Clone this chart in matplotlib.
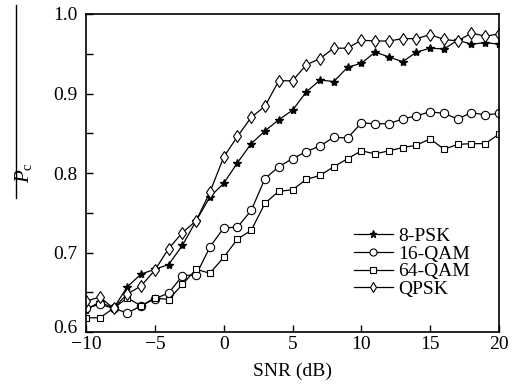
import numpy as np
import matplotlib
matplotlib.use("Agg")
from matplotlib import pyplot as plt
from matplotlib.lines import Line2D
import matplotlib.transforms as mtransforms

plt.rcParams['font.family'] = ['Liberation Serif', 'DejaVu Serif']
plt.rcParams['mathtext.fontset'] = 'custom'
plt.rcParams['mathtext.rm'] = 'Liberation Serif'
plt.rcParams['mathtext.it'] = 'Liberation Serif:italic'

#SNR values, one point per dB
snr = list(range(-10, 21))

#values
psk8 = [0.628, 0.638, 0.630, 0.657, 0.673, 0.679, 0.685, 0.709, 0.740, 0.770,
        0.787, 0.813, 0.837, 0.853, 0.867, 0.879, 0.902, 0.917, 0.915, 0.933,
        0.938, 0.952, 0.946, 0.940, 0.952, 0.957, 0.956, 0.967, 0.962, 0.964, 0.962]
qam16 = [0.630, 0.635, 0.630, 0.624, 0.633, 0.642, 0.649, 0.671, 0.672, 0.707,
         0.731, 0.732, 0.753, 0.793, 0.808, 0.818, 0.827, 0.834, 0.845, 0.844,
         0.863, 0.862, 0.862, 0.868, 0.872, 0.877, 0.875, 0.868, 0.876, 0.873, 0.875]
qam64 = [0.618, 0.618, 0.630, 0.643, 0.633, 0.643, 0.641, 0.660, 0.679, 0.674,
         0.694, 0.717, 0.728, 0.762, 0.777, 0.779, 0.792, 0.797, 0.808, 0.818,
         0.828, 0.824, 0.828, 0.832, 0.835, 0.843, 0.830, 0.836, 0.837, 0.837, 0.849]
qpsk = [0.639, 0.644, 0.630, 0.648, 0.658, 0.678, 0.705, 0.725, 0.740, 0.776,
        0.820, 0.846, 0.870, 0.884, 0.916, 0.916, 0.936, 0.944, 0.957, 0.957,
        0.967, 0.966, 0.966, 0.969, 0.969, 0.974, 0.968, 0.966, 0.976, 0.972, 0.975]

fig = plt.figure(figsize=(5.16, 3.88), dpi=100)
ax = fig.add_axes([0.1667, 0.144, 0.8004, 0.820])

ax.plot(snr, psk8, color='black', lw=0.9, marker='*', ms=6, mfc='black', mec='black', label='8-PSK')
ax.plot(snr, qam16, color='black', lw=0.9, marker='o', ms=6, mfc='white', mec='black', mew=0.8, label='16-QAM')
ax.plot(snr, qam64, color='black', lw=0.9, marker='s', ms=5, mfc='white', mec='black', mew=0.8, label='64-QAM')
ax.plot(snr, qpsk, color='black', lw=0.9, marker='d', ms=6.5, mfc='white', mec='black', mew=0.8, label='QPSK')

ax.set_xlim(-10, 20)
ax.set_ylim(0.6, 1.0)
ax.set_xticks([-10, -5, 0, 5, 10, 15, 20])
ax.set_xticklabels(['\u221210', '\u22125', '0', '5', '10', '15', '20'])
ax.set_yticks([0.6, 0.65, 0.7, 0.75, 0.8, 0.85, 0.9, 0.95, 1.0])
ax.set_yticklabels(['0.6', '', '0.7', '', '0.8', '', '0.9', '', '1.0'])
ax.tick_params(direction='in', length=5, width=1, labelsize=14, top=False, right=False)
ax.tick_params(axis='x', pad=3)
ax.tick_params(axis='y', pad=6)
for s in ax.spines.values():
    s.set_linewidth(1.2)
#lift the 0.6 label a little so it sits above -10 like the original
lbl = ax.get_yticklabels()[0]
lbl.set_transform(lbl.get_transform() + mtransforms.ScaledTranslation(0, 4/72, fig.dpi_scale_trans))

ax.set_xlabel('SNR (dB)', fontsize=14, labelpad=7)
fig.text(0.045, 0.554, r'$P_{\rm c}$', rotation=90, fontsize=15, ha='center', va='center')
#the bar over P_c in the original is a long line
fig.add_artist(Line2D([0.031, 0.031], [0.49, 0.987], color='black', lw=1, transform=fig.transFigure))

ax.legend(loc='center left', bbox_to_anchor=(0.625, 0.218), frameon=False, fontsize=14,
          handlelength=2.0, handletextpad=0.3, labelspacing=0.0, borderpad=0, markerscale=0.85)

plt.savefig("out.png", dpi=100)
